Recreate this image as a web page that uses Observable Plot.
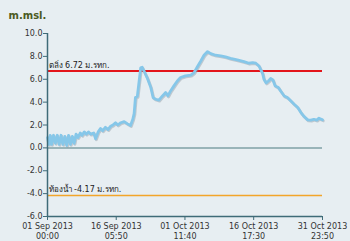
<!DOCTYPE html>
<html>
<head>
<meta charset="utf-8">
<script src="https://cdn.jsdelivr.net/npm/d3@7"></script>
<script src="https://cdn.jsdelivr.net/npm/@observablehq/plot@0.6"></script>
<style>
  html, body { margin: 0; padding: 0; background: #e7eef2; }
  #chart { width: 350px; height: 241px; }
</style>
</head>
<body>
<div id="chart"></div>
<script>
const times = [
  "2013-09-01T00:00","2013-09-01T07:00","2013-09-01T14:00","2013-09-01T22:00","2013-09-02T08:00",
  "2013-09-02T18:00","2013-09-03T04:00","2013-09-03T14:00","2013-09-04T00:00","2013-09-04T10:00",
  "2013-09-04T20:00","2013-09-05T06:00","2013-09-05T16:00","2013-09-06T02:00","2013-09-06T12:00",
  "2013-09-06T22:00","2013-09-07T08:00","2013-09-07T18:00","2013-09-08T06:00","2013-09-08T16:00",
  "2013-09-09T04:00","2013-09-09T14:00","2013-09-10T02:00","2013-09-10T14:00","2013-09-11T06:00",
  "2013-09-11T16:00","2013-09-12T06:00","2013-09-12T18:00","2013-09-13T06:00","2013-09-13T20:00",
  "2013-09-14T10:00","2013-09-15T00:00","2013-09-15T12:00","2013-09-16T02:00","2013-09-16T14:00",
  "2013-09-17T06:00","2013-09-18T00:00","2013-09-18T18:00","2013-09-19T10:00","2013-09-19T22:00",
  "2013-09-20T05:00","2013-09-20T12:00","2013-09-20T22:00","2013-09-21T16:00","2013-09-22T00:00",
  "2013-09-22T10:00","2013-09-23T02:00","2013-09-23T22:00","2013-09-24T10:00","2013-09-25T00:00",
  "2013-09-25T17:00","2013-09-26T12:00","2013-09-27T05:00","2013-09-27T17:00","2013-09-28T07:00",
  "2013-09-29T00:00","2013-09-29T19:00","2013-09-30T12:00","2013-10-01T14:00","2013-10-02T19:00",
  "2013-10-03T12:00","2013-10-04T05:00","2013-10-05T00:00","2013-10-05T17:00","2013-10-06T12:00",
  "2013-10-07T05:00","2013-10-08T07:00","2013-10-09T10:00","2013-10-10T12:00","2013-10-11T14:00",
  "2013-10-13T02:00","2013-10-14T14:00","2013-10-15T17:00","2013-10-16T12:00","2013-10-17T05:00",
  "2013-10-17T22:00","2013-10-18T17:00","2013-10-19T00:00","2013-10-19T12:00","2013-10-20T00:00",
  "2013-10-20T12:00","2013-10-21T00:00","2013-10-21T12:00","2013-10-22T05:00","2013-10-22T17:00",
  "2013-10-23T12:00","2013-10-24T05:00","2013-10-25T00:00","2013-10-25T17:00","2013-10-26T12:00",
  "2013-10-27T05:00","2013-10-27T22:00","2013-10-28T17:00","2013-10-29T10:00","2013-10-30T02:00",
  "2013-10-30T17:00","2013-10-31T05:00","2013-10-31T23:50"
];
const levels = [
  0.9, 0.3, 1.1, 0.3, 1.1,
  0.4, 1.1, 0.3, 1.1, 0.3,
  1.0, 0.2, 1.1, 0.3, 1.0,
  0.4, 1.2, 0.9, 1.3, 1.1,
  1.4, 1.2, 1.4, 1.2, 1.3,
  0.8, 1.4, 1.7, 1.5, 1.8,
  1.6, 1.9, 2.0, 2.2, 2.0,
  2.2, 2.3, 2.1, 1.95, 2.5,
  3.0, 4.4, 4.5, 7.0, 7.05,
  6.7, 6.15, 5.27, 4.4, 4.25,
  4.17, 4.54, 4.84, 4.54, 4.98,
  5.4, 5.85, 6.15, 6.29, 6.37,
  6.58, 7.07, 7.6, 8.1, 8.42,
  8.24, 8.1, 8.04, 7.95, 7.83,
  7.69, 7.54, 7.4, 7.46, 7.4,
  7.16, 6.5, 6.0, 5.68, 5.85,
  6.06, 5.94, 5.42, 5.27, 4.98,
  4.54, 4.4, 4.1, 3.82, 3.53,
  3.09, 2.74, 2.45, 2.42, 2.5,
  2.42, 2.6, 2.45
];
const xTicks = ["2013-09-01T00:00","2013-09-16T05:50","2013-10-01T11:40","2013-10-16T17:30","2013-10-31T23:50"];
const yTicks = [-6, -4, -2, 0, 2, 4, 6, 8, 10];
const bankLevel = 6.72;
const bedLevel = -4.17;
const bankLabel = "ตลิ่ง 6.72 ม.รทก.";
const bedLabel = "ท้องน้ำ -4.17 ม.รทก.";
const yTitle = "m.msl.";

const parse = d3.isoParse;
const data = times.map((t, i) => ({t: parse(t), v: levels[i]}));
const xDomain = [parse(xTicks[0]), parse(xTicks[xTicks.length - 1])];
const months = ["Jan","Feb","Mar","Apr","May","Jun","Jul","Aug","Sep","Oct","Nov","Dec"];
const fmt = d => `${String(d.getDate()).padStart(2,"0")} ${months[d.getMonth()]} ${d.getFullYear()}\n${String(d.getHours()).padStart(2,"0")}:${String(d.getMinutes()).padStart(2,"0")}`;
const axisColor = "#3f6b78";
const font = "DejaVu Sans, Tahoma, sans-serif";

const chart = Plot.plot({
  width: 350,
  height: 241,
  marginLeft: 47,
  marginRight: 28,
  marginTop: 33,
  marginBottom: 25,
  style: {background: "#e7eef2", fontFamily: font, fontSize: "8px", color: "#333"},
  x: {type: "time", domain: xDomain},
  y: {domain: [-6, 10]},
  marks: [
    Plot.ruleY([0], {x1: xDomain[0], x2: xDomain[1], stroke: "#7fa1a6", strokeWidth: 1.5}),
    Plot.ruleY([bankLevel], {x1: xDomain[0], x2: xDomain[1], stroke: "#e3151b", strokeWidth: 2}),
    Plot.ruleY([bedLevel], {x1: xDomain[0], x2: xDomain[1], stroke: "#f2a52a", strokeWidth: 1.5}),
    Plot.text([bankLevel], {x: xDomain[0], y: d => d, text: [bankLabel], textAnchor: "start", dx: 1, dy: -6, fill: "#222", fontSize: 8}),
    Plot.text([bedLevel], {x: xDomain[0], y: d => d, text: [bedLabel], textAnchor: "start", dx: 1, dy: -6, fill: "#222", fontSize: 8}),
    Plot.line(data, {x: "t", y: "v", stroke: "#8f9aa3", strokeOpacity: 0.45, strokeWidth: 2.8, dx: 0.8, dy: 1}),
    Plot.line(data, {x: "t", y: "v", stroke: "#86c7e9", strokeWidth: 2.8}),
    Plot.ruleY([-6], {x1: xDomain[0], x2: xDomain[1], stroke: axisColor, strokeWidth: 1.5}),
    Plot.ruleX([xDomain[0]], {y1: -6, y2: 10, stroke: axisColor, strokeWidth: 1.5}),
    Plot.axisY({ticks: yTicks, tickFormat: d => d.toFixed(1), tickSize: 4, stroke: axisColor, fill: "#333", tickPadding: 1, label: null}),
    Plot.axisX({ticks: xTicks.map(parse), tickFormat: fmt, tickSize: 4, stroke: axisColor, fill: "#333", tickPadding: 1, lineHeight: 1.25, label: null}),
    Plot.text([yTitle], {frameAnchor: "top-left", dx: -39, dy: -22, fontWeight: "bold", fontSize: 10, fill: "#4b5a22", textAnchor: "start"})
  ]
});
document.getElementById("chart").appendChild(chart);
</script>
</body>
</html>
